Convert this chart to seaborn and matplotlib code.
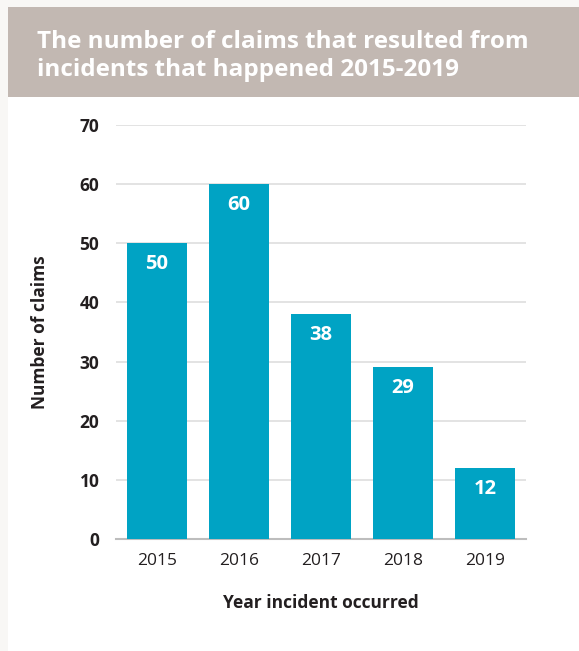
import matplotlib
matplotlib.use("Agg")
import matplotlib.pyplot as plt
from matplotlib.patches import Rectangle
import seaborn as sns
import pandas as pd

years = ["2015", "2016", "2017", "2018", "2019"]
claims = [50, 60, 38, 29, 12]
y_ticks = [0, 10, 20, 30, 40, 50, 60, 70]

title = "The number of claims that resulted from\nincidents that happened 2015-2019"
x_label = "Year incident occurred"
y_label = "Number of claims"

bar_color = "#00a3c4"
text_dark = "#231f20"
banner_color = "#c2b8b2"

sns.set_theme(style="white")
plt.rcParams["font.family"] = ["Open Sans", "DejaVu Sans"]

df = pd.DataFrame({"year": years, "claims": claims})

fig = plt.figure(figsize=(5.79, 6.51), dpi=100)
fig.patch.set_facecolor("white")

# pale page margin on the left and top
fig.add_artist(Rectangle((0, 0), 8 / 579, 1, transform=fig.transFigure,
                         facecolor="#f8f7f5", edgecolor="none", zorder=0))
fig.add_artist(Rectangle((0, 1 - 7 / 651), 1, 7 / 651, transform=fig.transFigure,
                         facecolor="#f8f7f5", edgecolor="none", zorder=0))
# title banner
fig.add_artist(Rectangle((8 / 579, 1 - 97 / 651), 1 - 8 / 579, 90 / 651,
                         transform=fig.transFigure, facecolor=banner_color,
                         edgecolor="none", zorder=1))
fig.text(37 / 579, 1 - 56 / 651, title, color="white", fontsize=17.5,
         fontweight="bold", ha="left", va="center", linespacing=1.2, zorder=2)

ax = fig.add_axes([116 / 579, 1 - 539 / 651, 410 / 579, 414 / 651])
sns.barplot(data=df, x="year", y="claims", color=bar_color, saturation=1,
            width=0.73, linewidth=0, ax=ax, zorder=3)

ax.set_xlim(-0.5, 4.5)
ax.set_ylim(0, 70)
ax.set_yticks(y_ticks)
ax.yaxis.grid(True, color="#e0e0e0", linewidth=1.3, zorder=0)
ax.set_axisbelow(True)
for side in ["top", "right", "left"]:
    ax.spines[side].set_visible(False)
ax.spines["bottom"].set_color("#bdbdbd")
ax.spines["bottom"].set_linewidth(1.5)
ax.tick_params(axis="both", length=0)
ax.tick_params(axis="y", pad=12)
ax.tick_params(axis="x", pad=10)
for lab in ax.get_yticklabels():
    lab.set_fontweight("bold")
    lab.set_fontsize(12.5)
    lab.set_color(text_dark)
for lab in ax.get_xticklabels():
    lab.set_fontsize(12.5)
    lab.set_color(text_dark)

ax.set_xlabel(x_label, fontsize=12.5, fontweight="bold", color=text_dark, labelpad=18)
ax.set_ylabel(y_label, fontsize=12.5, fontweight="bold", color=text_dark, labelpad=22)

for container in ax.containers:
    ax.bar_label(container, labels=[str(v) for v in claims], padding=-22,
                 color="white", fontsize=14.5, fontweight="bold")

fig.savefig("out.png", dpi=100, facecolor=fig.get_facecolor())
